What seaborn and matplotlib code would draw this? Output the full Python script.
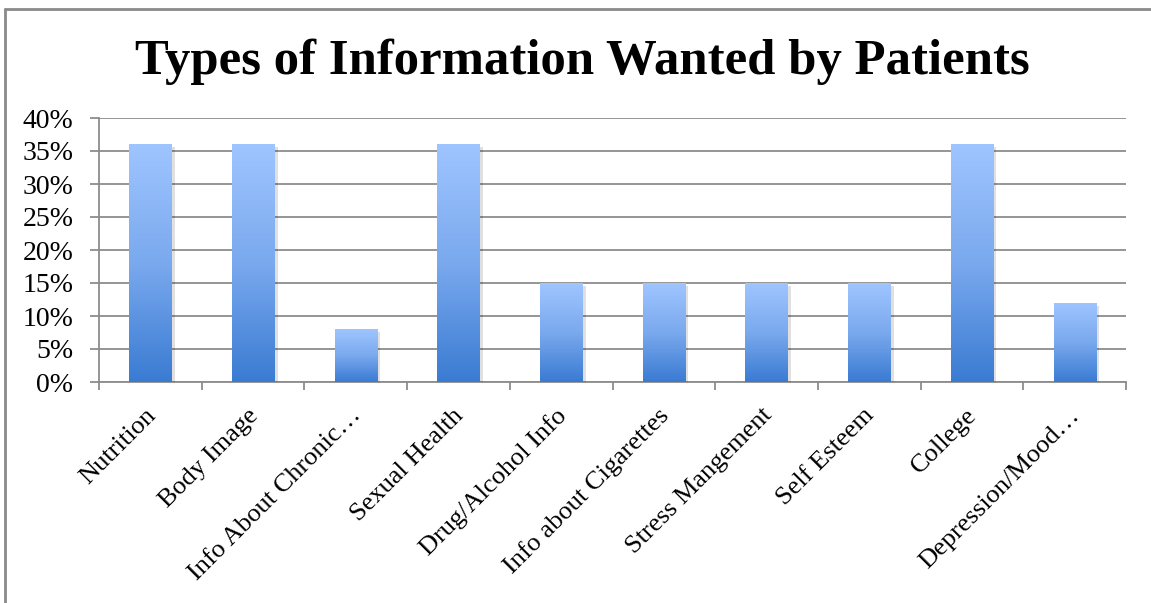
import numpy as np
import pandas as pd
import matplotlib
matplotlib.use("Agg")
import matplotlib.pyplot as plt
import matplotlib.patheffects as pe
import matplotlib.transforms as mtransforms
from matplotlib.ticker import PercentFormatter, FixedLocator, MultipleLocator
from matplotlib.colors import LinearSegmentedColormap
from matplotlib.lines import Line2D
import seaborn as sns

categories = [
    "Nutrition", "Body Image", "Info About Chronic\u2026", "Sexual Health",
    "Drug/Alcohol Info", "Info about Cigarettes", "Stress Mangement",
    "Self Esteem", "College", "Depression/Mood\u2026",
]
shares = [0.36, 0.36, 0.08, 0.36, 0.15, 0.15, 0.15, 0.15, 0.36, 0.12]
title = "Types of Information Wanted by Patients"

df = pd.DataFrame({"topic": categories, "share": shares})

sns.set_theme(style="white")
plt.rcParams["font.family"] = ["Liberation Serif", "DejaVu Serif"]

fig = plt.figure(figsize=(11.51, 6.03), dpi=100)
ax = fig.add_axes([99 / 1151, 1 - 382 / 603, (1126 - 99) / 1151, (382 - 118) / 603])

sns.barplot(data=df, x="topic", y="share", ax=ax, width=0.41,
            color="#6a9fe8", linewidth=0, saturation=1, zorder=3)

# vertical blue gradient inside every bar, with a soft drop shadow
grad_cmap = LinearSegmentedColormap.from_list("bar_grad", ["#3a7bd2", "#7aa9ee", "#9fc5ff"])
gradient = np.linspace(0, 1, 256).reshape(-1, 1)
for patch in ax.patches:
    x0, y0 = patch.get_x(), patch.get_y()
    w, h = patch.get_width(), patch.get_height()
    patch.set_path_effects([
        pe.SimplePatchShadow(offset=(2.5, -2), shadow_rgbFace="#000000", alpha=0.12),
        pe.Normal(),
    ])
    im = ax.imshow(gradient, cmap=grad_cmap, aspect="auto", origin="lower",
                   extent=[x0, x0 + w, y0, y0 + h], zorder=4,
                   interpolation="bilinear")
    im.set_clip_path(patch)

ax.set_xlim(-0.5, len(categories) - 0.5)
ax.set_ylim(0, 0.40)
ax.yaxis.set_major_locator(MultipleLocator(0.05))
ax.yaxis.set_major_formatter(PercentFormatter(xmax=1, decimals=0))

ax.grid(axis="y", color="#8c8c8c", linewidth=1.3, zorder=0)
ax.grid(axis="x", visible=False)
ax.set_axisbelow(True)

for side in ("top", "right"):
    ax.spines[side].set_visible(False)
for side in ("left", "bottom"):
    ax.spines[side].set_color("#8c8c8c")
    ax.spines[side].set_linewidth(1.3)

ax.set_xlabel("")
ax.set_ylabel("")

# category boundary ticks on the x axis, labels hanging diagonally under the bars
ax.xaxis.set_minor_locator(FixedLocator(np.arange(-0.5, len(categories), 1.0)))
ax.tick_params(axis="x", which="major", length=0, pad=16)
ax.tick_params(axis="x", which="minor", bottom=True, length=5.5, width=1.3,
               color="#8c8c8c", direction="out")
ax.tick_params(axis="y", left=True, length=6.5, width=1.3, color="#8c8c8c",
               direction="out", labelsize=20, pad=12, labelcolor="black")
shift = mtransforms.ScaledTranslation(-6 / 100, 0, fig.dpi_scale_trans)
for lab in ax.get_xticklabels():
    lab.set_rotation(45)
    lab.set_rotation_mode("anchor")
    lab.set_ha("right")
    lab.set_va("top")
    lab.set_fontsize(19)
    lab.set_color("black")
    lab.set_transform(lab.get_transform() + shift)

fig.text(0.506, 1 - 62 / 603, title, ha="center", va="center",
         fontsize=36.5, fontweight="bold", color="black")

# outer chart frame
frame_kw = dict(color="#8a8a8a", linewidth=2.0, transform=fig.transFigure)
fig.add_artist(Line2D([4.5 / 1151, 4.5 / 1151], [0, 1 - 9 / 603], **frame_kw))
fig.add_artist(Line2D([4.5 / 1151, 1], [1 - 9 / 603, 1 - 9 / 603], **frame_kw))

fig.savefig("out.png", dpi=100, facecolor="white")
